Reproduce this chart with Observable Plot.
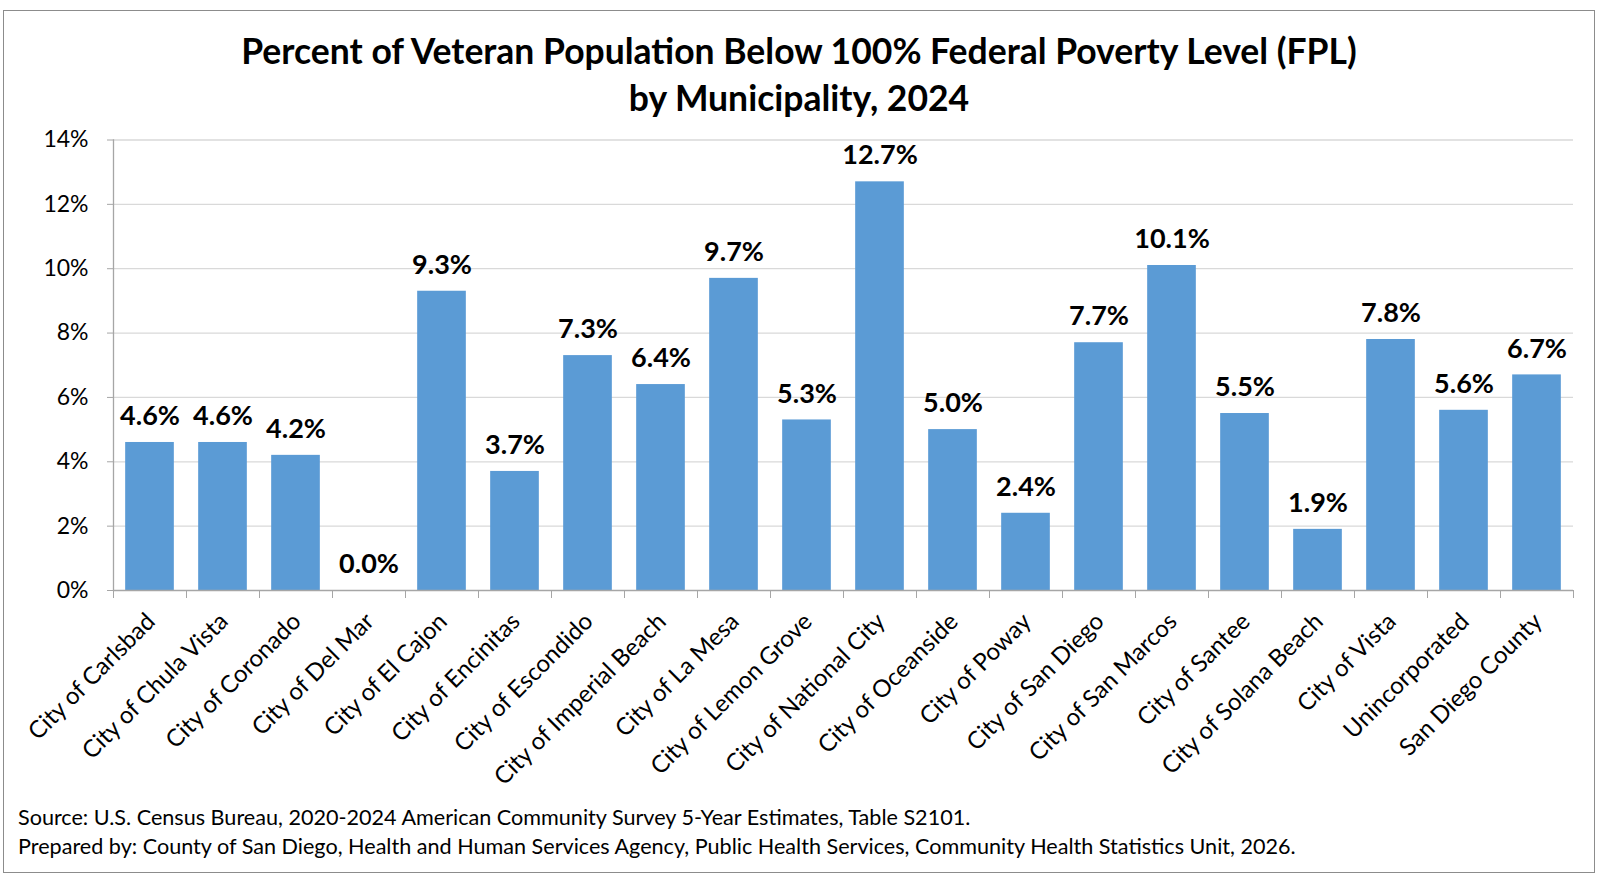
<!DOCTYPE html>
<html><head><meta charset="utf-8">
<script src="https://cdn.jsdelivr.net/npm/d3@7"></script>
<script src="https://cdn.jsdelivr.net/npm/@observablehq/plot@0.6"></script>
<style>
body{margin:0;background:#fff;font-family:Lato,"Open Sans",sans-serif;color:#000;}
#frame{position:absolute;left:3px;top:10px;width:1590px;height:861px;border:1.5px solid #8c8c8c;box-sizing:content-box;}
#title{position:absolute;left:0;top:27px;width:1598px;text-align:center;font-weight:bold;font-size:35.5px;line-height:47px;}
#chart{position:absolute;left:0;top:110px;}
#foot{position:absolute;left:18px;top:803px;font-size:21.6px;line-height:29px;white-space:nowrap;}
</style></head>
<body>
<div id="frame"></div>
<div id="title">Percent of Veteran Population Below 100% Federal Poverty Level (FPL)<br>by Municipality, 2024</div>
<div id="chart"></div>
<div id="foot">Source: U.S. Census Bureau, 2020-2024 American Community Survey 5-Year Estimates, Table S2101.<br>Prepared by: County of San Diego, Health and Human Services Agency, Public Health Services, Community Health Statistics Unit, 2026.</div>
<script>
const categories = ["City of Carlsbad","City of Chula Vista","City of Coronado","City of Del Mar","City of El Cajon","City of Encinitas","City of Escondido","City of Imperial Beach","City of La Mesa","City of Lemon Grove","City of National City","City of Oceanside","City of Poway","City of San Diego","City of San Marcos","City of Santee","City of Solana Beach","City of Vista","Unincorporated","San Diego County"];
const values = [4.6,4.6,4.2,0.0,9.3,3.7,7.3,6.4,9.7,5.3,12.7,5.0,2.4,7.7,10.1,5.5,1.9,7.8,5.6,6.7];
const yTicks = [0,2,4,6,8,10,12,14];

const data = categories.map((name,i)=>({name, value: values[i]}));
const W = 1607, H = 690, ML = 113, MR = 34, MT = 29.5, MB = 210;
const step = (W-ML-MR)/categories.length;

const chart = Plot.plot({
  width: W, height: H,
  marginLeft: ML, marginRight: MR, marginTop: MT, marginBottom: MB,
  style: {fontFamily: 'Lato, "Open Sans", sans-serif', color: "#000", background: "transparent", overflow: "visible"},
  x: {domain: categories, paddingInner: 1/3, paddingOuter: 1/6, round: false, label: null},
  y: {domain: [0,14], label: null},
  marks: [
    Plot.gridY(yTicks.filter(d=>d>0), {stroke:"#D9D9D9", strokeOpacity:1, strokeWidth:1.3}),
    Plot.barY(data, {x:"name", y:"value", fill:"#5B9BD5"}),
    Plot.ruleY([0], {stroke:"#A6A6A6", strokeWidth:1.3}),
    Plot.frame({anchor:"left", stroke:"#A6A6A6", strokeWidth:1.3}),
    Plot.axisY({ticks: yTicks, tickFormat: d=>d+"%", tickSize:6, tickPadding:19, fontSize:23, stroke:"#A6A6A6", fill:"#000", label:null}),
    Plot.axisX({tickSize:8, dx:-step/2, tickFormat:()=>"", stroke:"#A6A6A6", label:null}),
    Plot.axisX({ticks:[categories[categories.length-1]], tickSize:8, dx:step/2, tickFormat:()=>"", stroke:"#A6A6A6", label:null}),
    Plot.axisX({tickSize:0, tickRotate:-45, tickPadding:27, dx:1, fontSize:24, fill:"#000", label:null}),
    Plot.text(data, {x:"name", y:"value", text:d=>d.value.toFixed(1)+"%", dy:-26, fontSize:27, fontWeight:"bold", fill:"#000"})
  ]
});
document.getElementById("chart").appendChild(chart);
</script>
</body></html>
